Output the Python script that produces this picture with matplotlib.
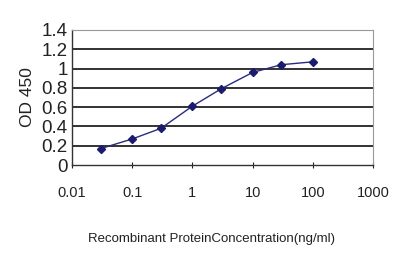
import matplotlib
matplotlib.use("Agg")
import matplotlib.pyplot as plt
from matplotlib.ticker import FixedLocator, FixedFormatter

# Recombinant protein concentration (ng/ml) and OD 450 readings
conc = [0.03, 0.1, 0.3, 1, 3, 10, 30, 100]
od450 = [0.17, 0.27, 0.38, 0.61, 0.79, 0.96, 1.04, 1.07]

x_ticks = [0.01, 0.1, 1, 10, 100, 1000]
x_tick_labels = ["0.01", "0.1", "1", "10", "100", "1000"]
y_ticks = [0, 0.2, 0.4, 0.6, 0.8, 1.0, 1.2, 1.4]
y_tick_labels = ["0", "0.2", "0.4", "0.6", "0.8", "1", "1.2", "1.4"]

plt.rcParams["font.family"] = ["Liberation Sans", "DejaVu Sans"]

fig = plt.figure(figsize=(4.0, 2.67), dpi=100)
ax = fig.add_axes([72 / 400, 1 - 165 / 267, 301 / 400, 135 / 267])

ax.set_xscale("log")
ax.set_xlim(0.01, 1000)
ax.set_ylim(0, 1.4)

for y in y_ticks[1:]:
    ax.axhline(y, color="#222222", lw=1.3, zorder=1)

ax.plot(conc, od450, color="#2a2a80", lw=1.0, marker="D", ms=4,
        markerfacecolor="#1c1c6e", markeredgecolor="#1c1c6e", zorder=3)

ax.xaxis.set_major_locator(FixedLocator(x_ticks))
ax.xaxis.set_major_formatter(FixedFormatter(x_tick_labels))
ax.xaxis.set_minor_locator(FixedLocator([]))
ax.yaxis.set_major_locator(FixedLocator(y_ticks))
ax.yaxis.set_major_formatter(FixedFormatter(y_tick_labels))

ax.tick_params(axis="x", direction="inout", length=4, width=0.8,
               labelsize=10.5, pad=13, colors="#222222")
ax.tick_params(axis="y", length=0, labelsize=13.5, pad=3, colors="#222222")

for side in ("top", "right"):
    ax.spines[side].set_color("#999999")
    ax.spines[side].set_linewidth(0.8)
for side in ("left", "bottom"):
    ax.spines[side].set_color("#333333")
    ax.spines[side].set_linewidth(1.0)

ax.set_ylabel("OD 450", fontsize=12.5, color="#222222", labelpad=5)
fig.text(212 / 400, 1 - 239 / 267, "Recombinant ProteinConcentration(ng/ml)",
         ha="center", va="center", fontsize=9.5, color="#222222")

fig.savefig("out.png", dpi=100)
